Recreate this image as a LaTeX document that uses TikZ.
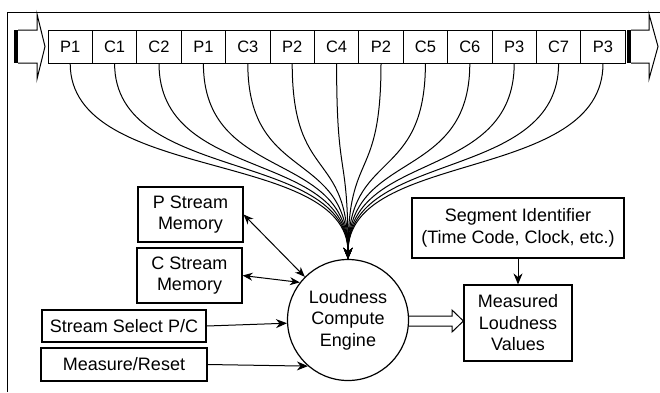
\documentclass[tikz,border=0pt]{standalone}
\usepackage{fontspec}
\setmainfont{Liberation Sans}
\usetikzlibrary{arrows.meta}
\tikzset{
  cell/.style={draw,line width=1pt,minimum width=44.4pt,minimum height=33pt,inner sep=0pt,font=\fontsize{16.5}{20}\selectfont},
  box/.style={draw,line width=1.2pt,align=center,inner sep=0pt,font=\fontsize{18}{21.5}\selectfont},
  feed/.style={line width=1pt,-{Stealth[length=11pt,width=9pt]}},
  link/.style={line width=1pt,{Stealth[length=10pt,width=8pt]}-{Stealth[length=10pt,width=8pt]}},
}
\begin{document}
\begin{tikzpicture}[x=1pt,y=-1pt]
\useasboundingbox (0,0) rectangle (660,392);
\draw[line width=1pt] (7,392) -- (7,12) -- (660,12);
% the stream
\foreach \lab [count=\i] in {P1,C1,C2,P1,C3,P2,C4,P2,C5,C6,P3,C7,P3}
  \node[cell] (s\i) at ({48+44.4*(\i-0.5)},46.5) {\lab};
\fill (14,30) rectangle (18,63);
\draw[line width=1pt] (18,30) -- (37,30) -- (37,14) -- (45,46.5) -- (37,79) -- (37,63) -- (18,63);
\fill (627,30) rectangle (631,63);
\draw[line width=1pt] (631,30) -- (649,30) -- (649,14) -- (658,46.5) -- (649,79) -- (649,63) -- (631,63);
% engine and boxes
\node[box,circle,minimum size=121pt] (engine) at (348,320) {Loudness\\Compute\\Engine};
\node[box,minimum width=105pt,minimum height=55pt] (pmem) at (190.5,214.5) {P Stream\\Memory};
\node[box,minimum width=105pt,minimum height=55pt] (cmem) at (189.5,275.5) {C Stream\\Memory};
\node[box,minimum width=164pt,minimum height=32pt] (ssel) at (124,326) {Stream Select P/C};
\node[box,minimum width=166pt,minimum height=33pt] (mres) at (124,364.5) {Measure/Reset};
\node[box,minimum width=212pt,minimum height=60pt] (segid) at (518,228) {Segment Identifier\\(Time Code, Clock, etc.)};
\node[box,minimum width=108pt,minimum height=76pt] (meas) at (518,323) {Measured\\Loudness\\Values};
% connectors
\foreach \i in {1,...,13}
  \draw[feed] (s\i.south) .. controls +(0,120) and +(0,-110) .. (engine.north);
\draw[link] (pmem.east) -- (engine.135);
\draw[link] (cmem.east) -- (engine.142);
\draw[feed] (ssel.east) -- (engine.183);
\draw[feed] (mres.east) -- (engine.229);
\draw[feed] (segid) -- (meas);
\draw[line width=1pt] (engine.east |- 0,316) -- (452,316) -- (452,310) -- (meas.west |- 0,321)
  -- (452,332) -- (452,326) -- (engine.east |- 0,326);
\end{tikzpicture}
\end{document}
